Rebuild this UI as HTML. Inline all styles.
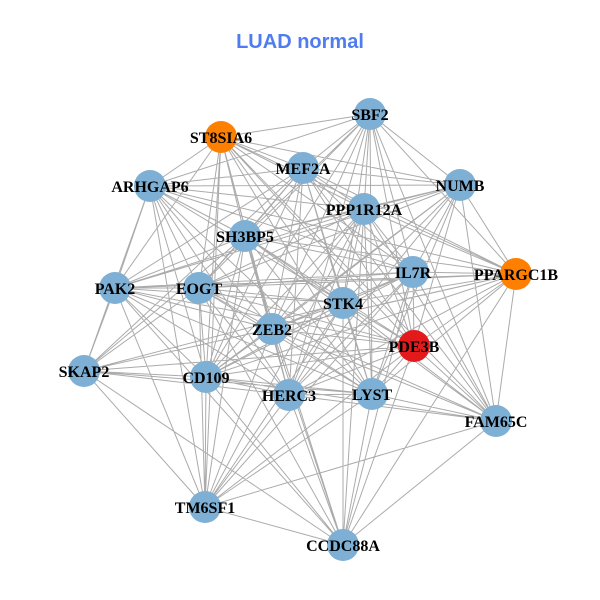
<!DOCTYPE html>
<html>
<head>
<meta charset="utf-8">
<style>
html,body{margin:0;padding:0;background:#fff;}
svg{display:block;}
.t{font-family:"Liberation Serif",serif;font-weight:bold;font-size:16px;fill:#000;text-anchor:middle;}
</style>
</head>
<body>
<svg width="600" height="600" viewBox="0 0 600 600" xmlns="http://www.w3.org/2000/svg">
<rect width="600" height="600" fill="#fff"/>
<text x="300" y="48" text-anchor="middle" style="font-family:'Liberation Sans',sans-serif;font-weight:bold;font-size:20px;fill:#4F7DF0;">LUAD normal</text>
<path fill="none" stroke="#ABABAB" stroke-width="1" d="
M370 114L221 137M370 114L303 168M370 114L150 186M370 114L460 185M370 114L364 209M370 114L245 236M370 114L413 272M370 114L516 274M370 114L199 288M370 114L343 303M370 114L272 329M370 114L414 346M370 114L206 377M370 114L289 395M370 114L372 394M370 114L496 421
M221 137L303 168M221 137L150 186M221 137L460 185M221 137L364 209M221 137L245 236M221 137L413 272M221 137L516 274M221 137L115 288M221 137L199 288M221 137L343 303M221 137L272 329M221 137L414 346M221 137L206 377M221 137L289 395M221 137L372 394M221 137L496 421M221 137L205 507
M303 168L150 186M303 168L460 185M303 168L364 209M303 168L245 236M303 168L413 272M303 168L516 274M303 168L115 288M303 168L199 288M303 168L343 303M303 168L272 329M303 168L414 346M303 168L84 371M303 168L206 377M303 168L289 395M303 168L372 394M303 168L496 421
M150 186L460 185M150 186L364 209M150 186L245 236M150 186L413 272M150 186L516 274M150 186L115 288M150 186L199 288M150 186L343 303M150 186L272 329M150 186L414 346M150 186L84 371M150 186L206 377M150 186L289 395M150 186L372 394M150 186L205 507
M460 185L364 209M460 185L245 236M460 185L413 272M460 185L516 274M460 185L115 288M460 185L199 288M460 185L343 303M460 185L272 329M460 185L414 346M460 185L206 377M460 185L289 395M460 185L372 394M460 185L496 421
M364 209L245 236M364 209L413 272M364 209L516 274M364 209L115 288M364 209L199 288M364 209L343 303M364 209L272 329M364 209L414 346M364 209L206 377M364 209L289 395M364 209L372 394M364 209L496 421M364 209L205 507M364 209L343 545
M245 236L413 272M245 236L516 274M245 236L115 288M245 236L199 288M245 236L343 303M245 236L272 329M245 236L414 346M245 236L84 371M245 236L206 377M245 236L289 395M245 236L372 394M245 236L496 421M245 236L205 507M245 236L343 545
M413 272L516 274M413 272L115 288M413 272L199 288M413 272L343 303M413 272L272 329M413 272L414 346M413 272L206 377M413 272L289 395M413 272L372 394M413 272L496 421M413 272L205 507M413 272L343 545
M516 274L115 288M516 274L199 288M516 274L343 303M516 274L272 329M516 274L414 346M516 274L84 371M516 274L206 377M516 274L289 395M516 274L372 394M516 274L496 421M516 274L343 545
M115 288L199 288M115 288L343 303M115 288L272 329M115 288L414 346M115 288L84 371M115 288L206 377M115 288L289 395M115 288L372 394M115 288L205 507M115 288L343 545
M199 288L343 303M199 288L272 329M199 288L414 346M199 288L84 371M199 288L206 377M199 288L289 395M199 288L372 394M199 288L496 421M199 288L205 507M199 288L343 545
M343 303L272 329M343 303L414 346M343 303L84 371M343 303L206 377M343 303L289 395M343 303L372 394M343 303L496 421M343 303L205 507M343 303L343 545
M272 329L414 346M272 329L84 371M272 329L206 377M272 329L289 395M272 329L372 394M272 329L496 421M272 329L205 507M272 329L343 545
M414 346L84 371M414 346L206 377M414 346L289 395M414 346L372 394M414 346L496 421M414 346L205 507M414 346L343 545
M84 371L206 377M84 371L289 395M84 371L372 394M84 371L205 507M84 371L343 545
M206 377L289 395M206 377L372 394M206 377L496 421M206 377L205 507M206 377L343 545
M289 395L372 394M289 395L496 421M289 395L205 507M289 395L343 545
M372 394L496 421M372 394L205 507M372 394L343 545
M496 421L205 507M496 421L343 545
M205 507L343 545
"/>
<g fill="#7EB0D5">
<circle cx="370" cy="114" r="16"/>
<circle cx="303" cy="168" r="16"/>
<circle cx="150" cy="186" r="16"/>
<circle cx="460" cy="185" r="16"/>
<circle cx="364" cy="209" r="16"/>
<circle cx="245" cy="236" r="16"/>
<circle cx="413" cy="272" r="16"/>
<circle cx="115" cy="288" r="16"/>
<circle cx="199" cy="288" r="16"/>
<circle cx="343" cy="303" r="16"/>
<circle cx="272" cy="329" r="16"/>
<circle cx="84" cy="371" r="16"/>
<circle cx="206" cy="377" r="16"/>
<circle cx="289" cy="395" r="16"/>
<circle cx="372" cy="394" r="16"/>
<circle cx="496" cy="421" r="16"/>
<circle cx="205" cy="507" r="16"/>
<circle cx="343" cy="545" r="16"/>
</g>
<circle cx="221" cy="137" r="16" fill="#FF7F00"/>
<circle cx="516" cy="274" r="16" fill="#FF7F00"/>
<circle cx="414" cy="346" r="16" fill="#E31A1C"/>
<g class="t">
<text class="t" x="370" y="120">SBF2</text>
<text class="t" x="221" y="143">ST8SIA6</text>
<text class="t" x="303" y="174">MEF2A</text>
<text class="t" x="150" y="192">ARHGAP6</text>
<text class="t" x="460" y="191">NUMB</text>
<text class="t" x="364" y="215">PPP1R12A</text>
<text class="t" x="245" y="242">SH3BP5</text>
<text class="t" x="413" y="278">IL7R</text>
<text class="t" x="516" y="280">PPARGC1B</text>
<text class="t" x="115" y="294">PAK2</text>
<text class="t" x="199" y="294">EOGT</text>
<text class="t" x="343" y="309">STK4</text>
<text class="t" x="272" y="335">ZEB2</text>
<text class="t" x="414" y="352">PDE3B</text>
<text class="t" x="84" y="377">SKAP2</text>
<text class="t" x="206" y="383">CD109</text>
<text class="t" x="289" y="401">HERC3</text>
<text class="t" x="372" y="400">LYST</text>
<text class="t" x="496" y="427">FAM65C</text>
<text class="t" x="205" y="513">TM6SF1</text>
<text class="t" x="343" y="551">CCDC88A</text>
</g>
</svg>
</body>
</html>
